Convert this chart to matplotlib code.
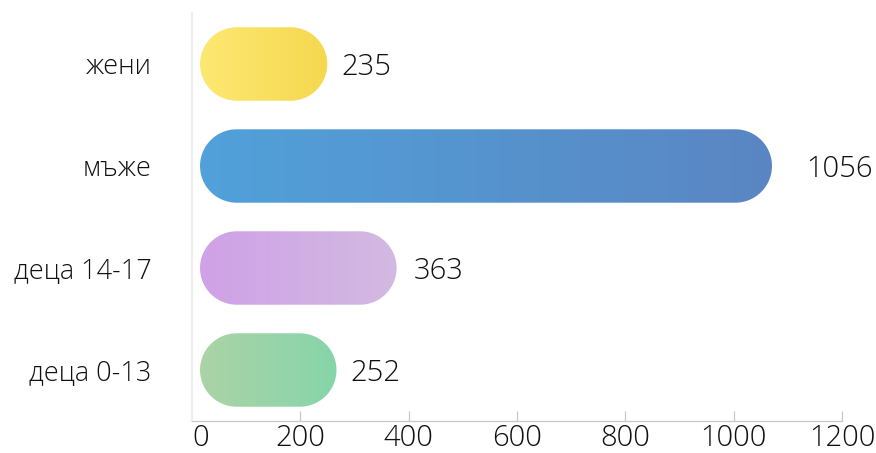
import numpy as np
import matplotlib
matplotlib.use('Agg')
import matplotlib.pyplot as plt
from matplotlib.colors import to_rgb
from matplotlib.patches import Polygon
from matplotlib.transforms import IdentityTransform

categories = ['жени', 'мъже', 'деца 14-17', 'деца 0-13']
values = [235, 1056, 363, 252]
colors_left = ['#fde872', '#51a1da', '#cfa1e7', '#abd3a6']
colors_right = ['#f5d84f', '#5a86c3', '#d3bae1', '#86d5aa']
xticks = [0, 200, 400, 600, 800, 1000, 1200]

plt.rcParams['font.family'] = ['Open Sans', 'DejaVu Sans']
plt.rcParams['font.weight'] = 'light'

fig = plt.figure(figsize=(8.76, 4.53), dpi=100)
W, H = 876, 453
ax = fig.add_axes([192 / W, (H - 421) / H, (842 - 192) / W, (421 - 13) / H])

ax.set_xlim(0, 1200)
ax.set_ylim(len(categories) - 0.5, -0.5)

for s in ['top', 'right']:
    ax.spines[s].set_visible(False)
ax.spines['left'].set_color('#eeeeee')
ax.spines['left'].set_linewidth(1.6)
ax.spines['bottom'].set_color('#c8c8c8')
ax.spines['bottom'].set_linewidth(0.9)

ax.set_yticks(range(len(categories)))
ax.set_yticklabels(categories, fontsize=19.5, color='#111111')
ax.tick_params(axis='y', length=0, pad=29)

ax.set_xticks(xticks)
ax.set_xticklabels([str(t) for t in xticks], fontsize=21, color='#111111')
ax.tick_params(axis='x', direction='in', length=7.2, width=0.9, color='#c8c8c8', pad=2)
ax.xaxis.get_major_ticks()[0].tick1line.set_visible(False)
ax.get_xticklabels()[0].set_ha('left')


def stadium(x0, x1, yb, yt, n=40):
    r = (yt - yb) / 2
    yc = (yt + yb) / 2
    a = np.linspace(-np.pi / 2, np.pi / 2, n)
    right = np.column_stack([x1 - r + r * np.cos(a), yc + r * np.sin(a)])
    left = np.column_stack([x0 + r - r * np.cos(a), yc - r * np.sin(a)])
    return np.vstack([right, left])


bar_h = 0.72
shift_px = 8
inv = ax.transData.inverted()

for i, v in enumerate(values):
    x0, yt = ax.transData.transform((0, i - bar_h / 2))
    x1, yb = ax.transData.transform((v, i + bar_h / 2))
    x0 += shift_px
    x1 += shift_px
    patch = Polygon(stadium(x0, x1, yb, yt), closed=True,
                    transform=IdentityTransform(),
                    facecolor='none', edgecolor='none')
    ax.add_patch(patch)
    c0 = np.array(to_rgb(colors_left[i]))
    c1 = np.array(to_rgb(colors_right[i]))
    t = np.linspace(0, 1, 256)[:, None]
    grad = (c0 * (1 - t) + c1 * t)[None, :, :]
    dx0 = inv.transform((x0, yb))[0]
    dx1 = inv.transform((x1, yb))[0]
    im = ax.imshow(grad, extent=(dx0, dx1, i + bar_h / 2, i - bar_h / 2),
                   aspect='auto', interpolation='bilinear', zorder=2)
    im.set_clip_path(patch)

    gap_px = shift_px + 8 + 0.025 * v
    ax.annotate(str(v), xy=(v, i), xytext=(gap_px * 0.72, 0),
                textcoords='offset points', ha='left', va='center_baseline',
                fontsize=21, color='#111111')

ax.set_xlim(0, 1200)
ax.set_ylim(len(categories) - 0.5, -0.5)

fig.savefig('out.png', dpi=100)
